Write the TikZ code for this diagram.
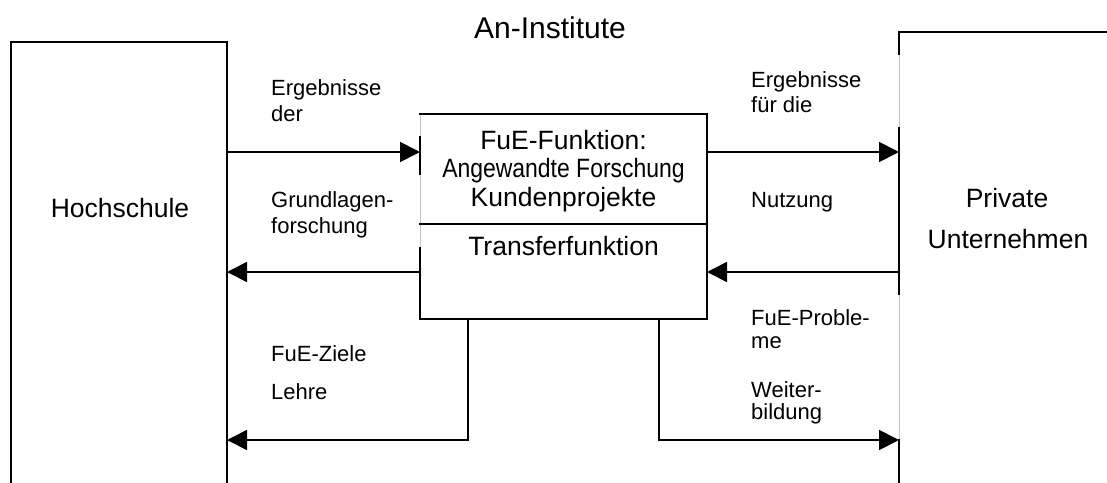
\documentclass[tikz,border=0pt]{standalone}
\usepackage{fontspec}
\setmainfont{Liberation Sans}
\usetikzlibrary{arrows.meta}
\begin{document}
\begin{tikzpicture}[x=1pt,y=-1pt,
  line/.style={line width=1.7pt, line cap=rect},
  faint/.style={line width=0.8pt, draw=black!22},
  arr/.style={line width=1.7pt,-{Triangle[length=20pt,width=20pt]}},
  bigtxt/.style={font=\fontsize{26.5}{30}\selectfont, inner sep=0pt, anchor=base},
  smalltxt/.style={font=\fontsize{22}{25}\selectfont, inner sep=0pt, anchor=base west},
]
\path[use as bounding box] (0,0) rectangle (1107,482);
\clip (0,0) rectangle (1107,482);

% left box (Hochschule)
\coordinate (hsTL) at (11,42);
\coordinate (hsTR) at (227,42);
\draw[line] (11,495) -- (hsTL) -- (hsTR) -- (227,495);

% right box (Private Unternehmen)
\draw[faint] (899,32) -- (899,495);
\draw[line] (899,54) -- (899,32) -- (1115,32);
\draw[line] (899,128) -- (899,294);
\draw[line] (899,440) -- (899,495);

% center box
\coordinate (cTL) at (420,114);
\coordinate (cTR) at (707,114);
\coordinate (cBR) at (707,319);
\coordinate (cBL) at (420,319);
\draw[faint] (cTL) -- (cBL);
\draw[line] (cTL) -- (cTR) -- (cBR) -- (cBL) -- (420,248);
\draw[line] (420,137) -- (420,174);
\draw[line] (420,224) -- (707,224);

% connector end points
\coordinate (hsA) at (227,152);
\coordinate (hsB) at (227,272);
\coordinate (hsC) at (227,440);
\coordinate (cA) at (420,152);
\coordinate (cB) at (420,272);
\coordinate (cRA) at (707,152);
\coordinate (cRB) at (707,272);
\coordinate (cD1) at (468,319);
\coordinate (cD2) at (659,319);
\coordinate (puA) at (899,152);
\coordinate (puB) at (899,272);
\coordinate (puC) at (899,440);

\draw[arr] (hsA) -- (cA);
\draw[arr] (cB) -- (hsB);
\draw[arr] (cRA) -- (puA);
\draw[arr] (puB) -- (cRB);
\draw[arr] (cD1) |- (hsC);
\draw[arr] (cD2) |- (puC);

% texts
\node[font=\fontsize{30}{34}\selectfont, inner sep=0pt, anchor=base] (title) at (550,38) {An-Institute};
\node[bigtxt] (hs) at (120,217) {Hochschule};
\node[bigtxt] (pu1) at (1007,207) {Private};
\node[bigtxt] (pu2) at (1008,248) {Unternehmen};

\node[bigtxt] (c1) at (563.5,149) {FuE-Funktion:};
\node[bigtxt] (c2) at (563.5,177) {\scalebox{0.866}[1]{Angewandte Forschung}};
\node[bigtxt] (c3) at (563.5,206) {Kundenprojekte};
\node[bigtxt] (c4) at (563.5,255) {Transferfunktion};

\node[smalltxt] (l1) at (271,95) {Ergebnisse};
\node[smalltxt] (l2) at (271,121) {der};
\node[smalltxt] (l3) at (271,207) {Grundlagen-};
\node[smalltxt] (l4) at (271,233) {forschung};
\node[smalltxt] (l5) at (271,361) {FuE-Ziele};
\node[smalltxt] (l6) at (271,399) {Lehre};

\node[smalltxt] (r1) at (751,87) {Ergebnisse};
\node[smalltxt] (r2) at (751,112) {für die};
\node[smalltxt] (r3) at (751,207) {Nutzung};
\node[smalltxt] (r4) at (751,325) {FuE-Proble-};
\node[smalltxt] (r5) at (751,348) {me};
\node[smalltxt] (r6) at (751,397) {Weiter-};
\node[smalltxt] (r7) at (751,419) {bildung};
\end{tikzpicture}
\end{document}
